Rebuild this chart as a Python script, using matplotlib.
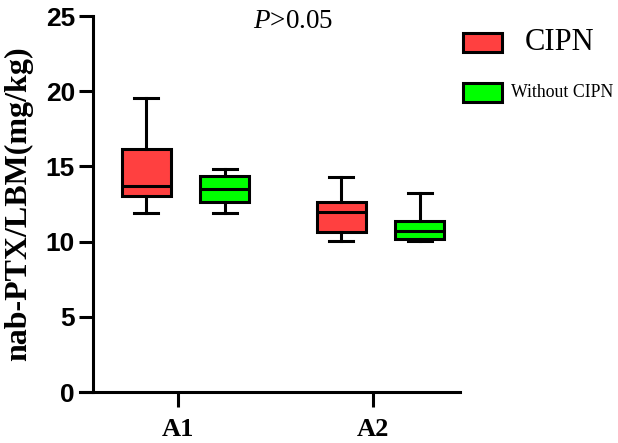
import matplotlib
matplotlib.use('Agg')
import matplotlib.pyplot as plt
from matplotlib.patches import Rectangle

## data
groups = ['A1', 'A2']
series = ['CIPN', 'Without CIPN']
colors = ['#ff4040', '#00ff00']

# whisker low, q1, median, q3, whisker high  (per group)
cipn_lo = [11.9, 10.05]
cipn_q1 = [13.0, 10.65]
cipn_med = [13.7, 11.95]
cipn_q3 = [16.15, 12.6]
cipn_hi = [19.55, 14.3]

nocipn_lo = [11.9, 10.05]
nocipn_q1 = [12.65, 10.2]
nocipn_med = [13.5, 10.7]
nocipn_q3 = [14.35, 11.35]
nocipn_hi = [14.85, 13.25]

y_ticks = [0, 5, 10, 15, 20, 25]
p_text = '$P$>0.05'

plt.rcParams['mathtext.fontset'] = 'custom'
plt.rcParams['mathtext.rm'] = 'Liberation Serif'
plt.rcParams['mathtext.it'] = 'Liberation Serif:italic'

LW = 2.2

fig = plt.figure(figsize=(6.18, 4.43), dpi=100)
ax = fig.add_axes([80/618, 1-392/443, 380/618, 376/443])


def stats(lo, q1, med, q3, hi):
    return [dict(whislo=a, q1=b, med=c, q3=d, whishi=e, fliers=[])
            for a, b, c, d, e in zip(lo, q1, med, q3, hi)]


all_stats = [stats(cipn_lo, cipn_q1, cipn_med, cipn_q3, cipn_hi),
             stats(nocipn_lo, nocipn_q1, nocipn_med, nocipn_q3, nocipn_hi)]
offsets = [-0.163, 0.24]

for s, st in enumerate(all_stats):
    pos = [i + 1 + offsets[s] for i in range(len(groups))]
    ax.bxp(st, positions=pos, widths=0.25, patch_artist=True,
           showfliers=False,
           boxprops=dict(facecolor=colors[s], edgecolor='black', linewidth=LW),
           medianprops=dict(color='black', linewidth=LW),
           whiskerprops=dict(color='black', linewidth=LW),
           capprops=dict(color='black', linewidth=LW),
           manage_ticks=False)

ax.set_xlim(0.497, 2.446)
ax.set_ylim(0, 25)
ax.spines['top'].set_visible(False)
ax.spines['right'].set_visible(False)
ax.spines['left'].set_position(('data', 0.564))
ax.spines['left'].set_linewidth(LW)
ax.spines['bottom'].set_linewidth(LW)

ax.set_yticks(y_ticks)
ax.set_yticklabels([str(v) for v in y_ticks], fontfamily='Liberation Sans',
                   fontweight='bold', fontsize=19)
ax.set_xticks(range(1, len(groups) + 1))
ax.set_xticklabels(groups, fontfamily='Liberation Serif', fontweight='bold',
                   fontsize=19)
ax.tick_params(axis='y', length=10, width=LW, pad=3)
ax.tick_params(axis='x', length=11, width=LW, pad=8)

ax.set_ylabel('nab-PTX/LBM(mg/kg)', fontfamily='Liberation Serif',
              fontweight='bold', fontsize=23)
ax.yaxis.set_label_coords(-0.124, 0.5)

fig.text(253/618, 1-28/443, p_text, fontfamily='Liberation Serif',
         fontsize=19.5, va='baseline', ha='left')

# legend drawn by hand
leg_y = [33, 83]
leg_size = [22, 12.8]
leg_x = [525, 511]
for i, name in enumerate(series):
    fig.add_artist(Rectangle((463/618, 1-(leg_y[i]+19)/443), 39/618, 19/443,
                             facecolor=colors[i], edgecolor='black',
                             linewidth=LW, transform=fig.transFigure))
    fig.text(leg_x[i]/618, 1-(leg_y[i]+9.5)/443, name,
             fontfamily='Liberation Serif', fontsize=leg_size[i],
             va='center', ha='left')

fig.savefig('out.png', dpi=100)
